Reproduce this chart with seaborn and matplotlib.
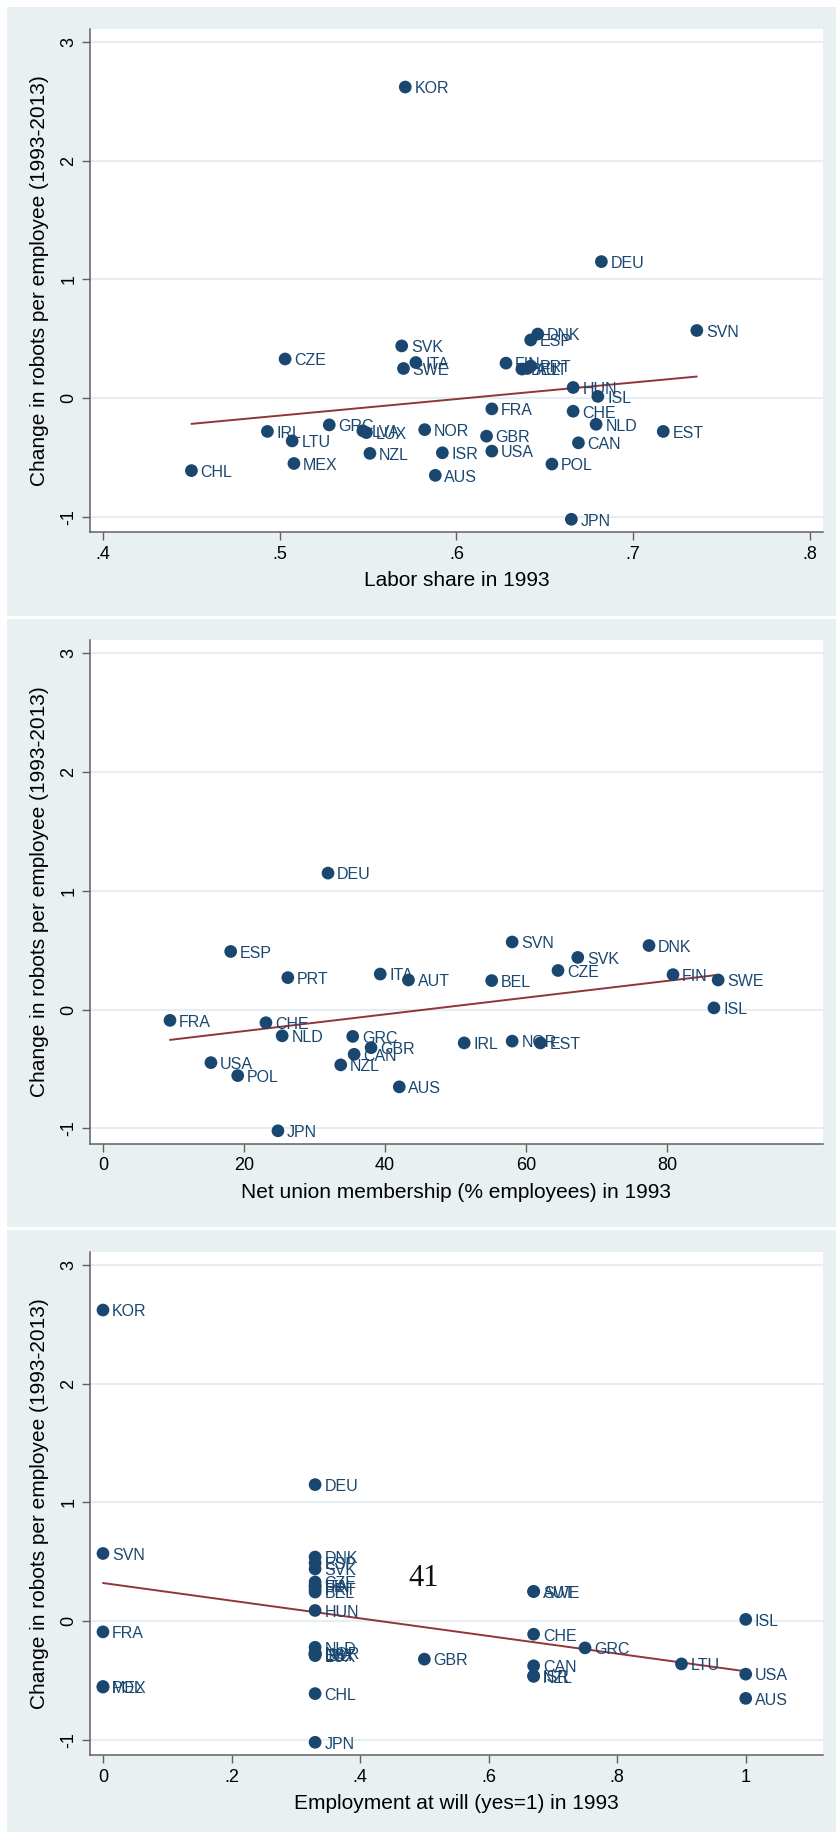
import numpy as np
import pandas as pd
import matplotlib
matplotlib.use("Agg")
import matplotlib.pyplot as plt
import seaborn as sns
from matplotlib.patches import Rectangle

# Country codes and the change in robots per employee, 1993-2013
countries = ["KOR", "DEU", "SVN", "DNK", "ESP", "SVK", "CZE", "ITA", "FIN", "PRT",
             "SWE", "AUT", "BEL", "HUN", "ISL", "FRA", "CHE", "NLD", "GRC", "NOR",
             "IRL", "EST", "LVA", "LUX", "GBR", "LTU", "CAN", "USA", "ISR", "NZL",
             "MEX", "POL", "CHL", "AUS", "JPN"]
robot_change = [2.62, 1.15, 0.57, 0.54, 0.49, 0.44, 0.33, 0.30, 0.295, 0.27,
                0.25, 0.25, 0.245, 0.09, 0.015, -0.09, -0.11, -0.22, -0.225, -0.265,
                -0.28, -0.28, -0.275, -0.29, -0.32, -0.36, -0.376, -0.446, -0.46, -0.465,
                -0.55, -0.555, -0.61, -0.65, -1.02]

# Labor share in 1993
labor_share = [0.571, 0.682, 0.736, 0.646, 0.642, 0.569, 0.503, 0.577, 0.628, 0.642,
               0.570, 0.640, 0.637, 0.666, 0.680, 0.620, 0.666, 0.679, 0.528, 0.582,
               0.493, 0.717, 0.547, 0.549, 0.617, 0.507, 0.669, 0.620, 0.592, 0.551,
               0.508, 0.654, 0.450, 0.588, 0.665]

# Net union membership (% employees) in 1993; nan where not available
nan = np.nan
union_membership = [nan, 31.9, 58.0, 77.4, 18.1, 67.3, 64.5, 39.3, 80.8, 26.2,
                    87.2, 43.3, 55.1, nan, 86.6, 9.5, 23.1, 25.4, 35.4, 58.0,
                    51.2, 62.0, nan, nan, 38.0, nan, 35.6, 15.3, nan, 33.7,
                    nan, 19.1, nan, 42.0, 24.8]

# Employment at will (yes=1) in 1993
employment_at_will = [0, 0.33, 0, 0.33, 0.33, 0.33, 0.33, 0.33, 0.33, 0.33,
                      0.67, 0.67, 0.33, 0.33, 1, 0, 0.67, 0.33, 0.75, 0.33,
                      0.33, 0.33, 0.33, 0.33, 0.5, 0.9, 0.67, 1, 0.67, 0.67,
                      0, 0, 0.33, 1, 0.33]

y_ticks = [-1, 0, 1, 2, 3]
y_tick_labels = ["-1", "0", "1", "2", "3"]
x_ticks_labor = [0.4, 0.5, 0.6, 0.7, 0.8]
x_labels_labor = [".4", ".5", ".6", ".7", ".8"]
x_ticks_union = [0, 20, 40, 60, 80]
x_labels_union = ["0", "20", "40", "60", "80"]
x_ticks_will = [0, 0.2, 0.4, 0.6, 0.8, 1]
x_labels_will = ["0", ".2", ".4", ".6", ".8", "1"]

df = pd.DataFrame({
    "country": countries,
    "robots": robot_change,
    "labor_share": labor_share,
    "union": union_membership,
    "at_will": employment_at_will,
})

sns.set_theme(style="white")
plt.rcParams["font.family"] = ["Liberation Sans", "DejaVu Sans"]
plt.rcParams["axes.unicode_minus"] = False

NAVY = "#1a476f"
MAROON = "#90353b"
BG = "#e9f0f2"
GRID = "#e6eef1"
AXIS = "#606060"

W, H = 837, 1832
fig = plt.figure(figsize=(W / 100, H / 100), dpi=100)
fig.patch.set_facecolor("white")

panels = [
    ("labor_share", "Labor share in 1993", x_ticks_labor, x_labels_labor, (0.3926, 0.8074)),
    ("union", "Net union membership (% employees) in 1993", x_ticks_union, x_labels_union, (-1.84, 102.06)),
    ("at_will", "Employment at will (yes=1) in 1993", x_ticks_will, x_labels_will, (-0.0202, 1.1202)),
]
offsets = [0, 611.5, 1223]

for (col, xlabel, xt, xtl, xlim), off in zip(panels, offsets):
    # shaded graph region behind each plot
    top = 7 + off
    bottom = min(615.5 + off, H + 5)
    fig.patches.append(Rectangle((7 / W, 1 - bottom / H), 1 - 7 / W, (bottom - top) / H,
                                 transform=fig.transFigure, facecolor=BG,
                                 edgecolor="none", zorder=0))

    ax_top = 28.5 + off
    ax_bot = 532 + off
    ax = fig.add_axes([90 / W, 1 - ax_bot / H, 733 / W, (ax_bot - ax_top) / H])
    ax.set_facecolor("white")
    ax.set_zorder(1)

    d = df.dropna(subset=[col])
    sns.regplot(data=d, x=col, y="robots", ax=ax, scatter=False, ci=None,
                line_kws={"color": MAROON, "lw": 1.4, "zorder": 2})
    sns.scatterplot(data=d, x=col, y="robots", ax=ax, color=NAVY, s=84,
                    edgecolor="none", linewidth=0, zorder=3)
    for _, r in d.iterrows():
        ax.annotate(r["country"], (r[col], r["robots"]), xytext=(6.6, -1.3),
                    textcoords="offset points", ha="left", va="center",
                    fontsize=11.5, color=NAVY, zorder=4)

    ax.set_xlim(*xlim)
    ax.set_ylim(-1.127, 3.113)
    ax.set_xticks(xt)
    ax.set_xticklabels(xtl)
    ax.set_yticks(y_ticks)
    ax.set_yticklabels(y_tick_labels, rotation=90, va="center")
    ax.grid(axis="y", color=GRID, lw=1.6, zorder=0)
    ax.grid(axis="x", visible=False)
    ax.set_axisbelow(True)

    for s in ("top", "right"):
        ax.spines[s].set_visible(False)
    for s in ("left", "bottom"):
        ax.spines[s].set_color(AXIS)
        ax.spines[s].set_linewidth(1.1)
    ax.tick_params(axis="both", which="major", direction="out", length=6,
                   width=1.0, color=AXIS, labelsize=13, labelcolor="black")
    ax.tick_params(axis="x", pad=4, bottom=True)
    ax.tick_params(axis="y", pad=3, left=True)

    ax.set_xlabel(xlabel, fontsize=15, color="black", labelpad=6)
    ax.set_ylabel("Change in robots per employee (1993-2013)", fontsize=15,
                  color="black", labelpad=8)

# page number printed on the sheet
fig.text(424 / W, 1 - 1578 / H, "41", family=["Liberation Serif", "DejaVu Serif"],
         fontsize=22, color="#111111", ha="center", va="center", zorder=10)

fig.savefig("out.png", dpi=100, facecolor="white")
